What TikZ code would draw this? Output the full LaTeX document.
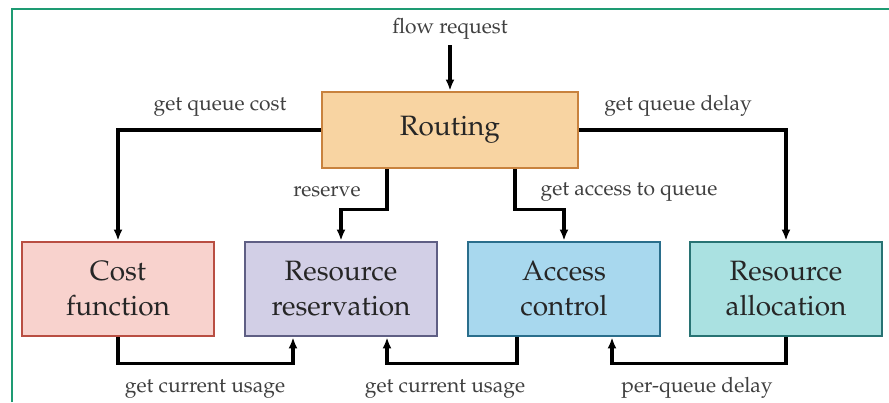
\documentclass[tikz,border=0pt]{standalone}
\usepackage[T1]{fontenc}
\usepackage{mathpazo}
\usetikzlibrary{arrows.meta}

\definecolor{framegreen}{RGB}{30,155,115}
\definecolor{routefill}{RGB}{248,212,162}
\definecolor{routeline}{RGB}{200,130,62}
\definecolor{costfill}{RGB}{248,210,205}
\definecolor{costline}{RGB}{185,78,66}
\definecolor{resvfill}{RGB}{210,207,230}
\definecolor{resvline}{RGB}{95,95,132}
\definecolor{accfill}{RGB}{168,216,238}
\definecolor{accline}{RGB}{42,110,140}
\definecolor{allocfill}{RGB}{170,225,225}
\definecolor{allocline}{RGB}{40,115,115}

\tikzset{
  block/.style={draw, line width=2.8pt, minimum width=192pt, minimum height=94pt,
    inner sep=0pt, align=center, text=black!85, font=\fontsize{28}{35}\selectfont},
  link/.style={line width=3.2pt, -{Latex[length=11pt,width=9pt]}},
  lbl/.style={anchor=base, inner sep=0pt, text=black!75, font=\fontsize{21}{24}\selectfont}
}

\begin{document}
\begin{tikzpicture}[x=1pt,y=-1pt]
  \useasboundingbox (0,0) rectangle (889,402);
  \draw[framegreen, line width=2.2pt] (12,402) |- (889,9);

  \node[block, fill=routefill, draw=routeline, minimum width=256pt, minimum height=76pt] (routing) at (450,130) {Routing};
  \node[block, fill=costfill, draw=costline] (cost) at (118,289) {Cost\\function};
  \node[block, fill=resvfill, draw=resvline] (reservation) at (341,289) {Resource\\reservation};
  \node[block, fill=accfill, draw=accline] (access) at (564,289) {Access\\control};
  \node[block, fill=allocfill, draw=allocline] (allocation) at (786,289) {Resource\\allocation};

  \node[lbl] (flow) at (450,33) {flow request};
  \node[lbl] (costlbl) at (220,110) {get queue cost};
  \node[lbl] (delaylbl) at (678,110) {get queue delay};
  \node[lbl] (reservelbl) at (327,196) {reserve};
  \node[lbl] (accesslbl) at (629,195) {get access to queue};
  \node[lbl] (usagelbl) at (205,392) {get current usage};
  \node[lbl] (usagelbltwo) at (445,392) {get current usage};
  \node[lbl] (perqueuelbl) at (697,392) {per-queue delay};

  \draw[link, shorten <=6pt] (flow) -- (routing);
  \draw[link] (routing.west) -| (cost.north);
  \draw[link] (routing.east) -| (allocation.north);
  \draw[link] ([xshift=-63pt]routing.south) -- ++(0,40) -| (reservation.north);
  \draw[link] ([xshift=65pt]routing.south) -- ++(0,40) -| (access.north);
  \draw[link] (cost.south) -- ++(0,26) -| ([xshift=-48pt]reservation.south);
  \draw[link] ([xshift=-47pt]access.south) -- ++(0,26) -| ([xshift=46pt]reservation.south);
  \draw[link] (allocation.south) -- ++(0,26) -| ([xshift=48pt]access.south);
\end{tikzpicture}
\end{document}
